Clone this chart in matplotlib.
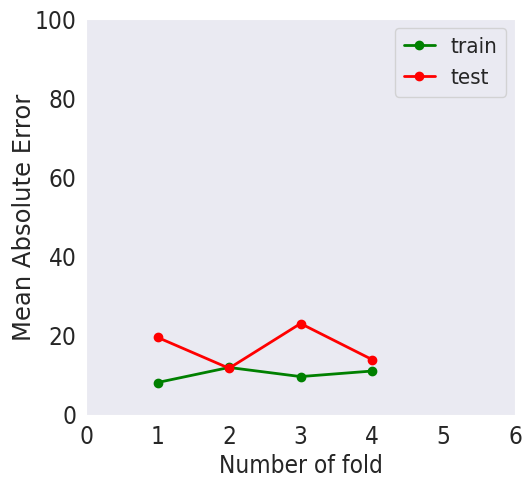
import matplotlib
matplotlib.use("Agg")
import matplotlib.pyplot as plt
import seaborn as sns

sns.set_style("dark")
plt.rcParams['font.family'] = ['DejaVu Sans']
plt.rcParams['font.stretch'] = 'condensed'

folds = [1, 2, 3, 4]
train_mae = [8.2, 12.0, 9.7, 11.1]
test_mae = [19.6, 11.8, 23.1, 14.0]

fig = plt.figure(figsize=(5.28, 4.84), dpi=100)
ax = fig.add_axes([0.163, 0.1426, 0.8125, 0.818])
ax.plot(folds, train_mae, color="green", marker="o", lw=2, ms=6, label="train")
ax.plot(folds, test_mae, color="red", marker="o", lw=2, ms=6, label="test")
ax.set_xlim(0, 6)
ax.set_ylim(0, 100)
ax.set_xticks(range(0, 7))
ax.set_yticks(range(0, 101, 20))
ax.tick_params(labelsize=17.5)
ax.set_xlabel("Number of fold", fontsize=17.5)
ax.set_ylabel("Mean Absolute Error", fontsize=17.5, fontstretch="normal", labelpad=-1)
ax.legend(loc="upper right", fontsize=16, handlelength=1.4, handletextpad=0.7,
          borderaxespad=0.4)
fig.savefig("out.png", dpi=100)
